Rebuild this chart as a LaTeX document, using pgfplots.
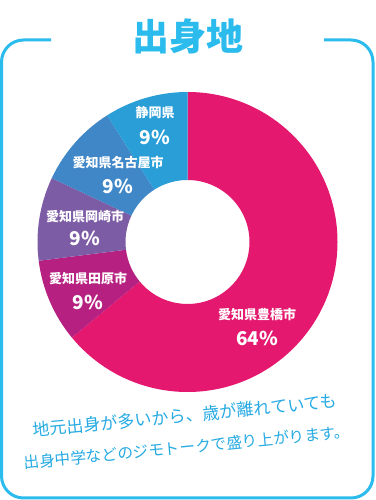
\documentclass[border=0pt]{standalone}
\usepackage{pgfplots}
\pgfplotsset{compat=1.18}
\usepackage{fontspec}
\newfontfamily\cjk{Noto Sans CJK JP}
\definecolor{frame}{RGB}{43,187,236}
\definecolor{textblue}{RGB}{38,170,226}
\definecolor{toyo}{RGB}{227,24,110}
\definecolor{tahara}{RGB}{182,32,128}
\definecolor{okazaki}{RGB}{125,92,166}
\definecolor{nagoya}{RGB}{64,135,200}
\definecolor{shizuoka}{RGB}{41,158,215}
% start (cumulative %), share (%), colour
\newcommand\slice[3]{%
  \pgfmathsetmacro\aS{90-3.6*#1}%
  \pgfmathsetmacro\aE{90-3.6*(#1+#2)}%
  \edef\temp{\noexpand\fill[#3] (axis cs:{150*cos(\aS)},{150*sin(\aS)}) arc[start angle=\aS, end angle=\aE, radius=150pt] -- (axis cs:{62*cos(\aE)},{62*sin(\aE)}) arc[start angle=\aE, end angle=\aS, radius=62pt] -- cycle;}%
  \temp}
\begin{document}
\begin{tikzpicture}
\begin{axis}[hide axis, scale only axis, width=375pt, height=500pt,
  xmin=-187.5, xmax=187.5, ymin=-258, ymax=242, clip=false]
\slice{0}{64}{toyo}
\slice{64}{9}{tahara}
\slice{73}{9}{okazaki}
\slice{82}{9}{nagoya}
\slice{91}{9}{shizuoka}
\draw[frame, line width=3pt, rounded corners=22pt] (axis cs:136.5,202) -- (axis cs:185.5,202) -- (axis cs:185.5,-256) -- (axis cs:-186,-256) -- (axis cs:-186,202) -- (axis cs:-136.5,202);
\node[text=frame, font=\cjk\bfseries\fontsize{37}{40}\selectfont] at (axis cs:0.5,206) {出身地};
\begin{scope}[every node/.style={text=white, font=\cjk\bfseries}]
\node[font=\cjk\bfseries\fontsize{13}{15}\selectfont] at (axis cs:-32.5,129) {静岡県};
\node[font=\cjk\bfseries\fontsize{19}{21}\selectfont] at (axis cs:-32.5,105) {9\%};
\node[font=\cjk\bfseries\fontsize{13}{15}\selectfont] at (axis cs:-69.5,79) {愛知県名古屋市};
\node[font=\cjk\bfseries\fontsize{19}{21}\selectfont] at (axis cs:-69.5,56) {9\%};
\node[font=\cjk\bfseries\fontsize{13}{15}\selectfont] at (axis cs:-102.5,25) {愛知県岡崎市};
\node[font=\cjk\bfseries\fontsize{19}{21}\selectfont] at (axis cs:-102.5,4) {9\%};
\node[font=\cjk\bfseries\fontsize{13}{15}\selectfont] at (axis cs:-99.5,-37) {愛知県田原市};
\node[font=\cjk\bfseries\fontsize{19}{21}\selectfont] at (axis cs:-99.5,-60) {9\%};
\node[font=\cjk\bfseries\fontsize{13}{15}\selectfont] at (axis cs:69.5,-73) {愛知県豊橋市};
\node[font=\cjk\bfseries\fontsize{19}{21}\selectfont] at (axis cs:69.5,-96) {64\%};
\end{scope}
\begin{scope}[shift={(axis cs:-2.5,-174)}, rotate=5.5,
  every node/.style={text=textblue, inner sep=0pt, rotate=5.5, anchor=base west, font=\cjk\fontsize{17}{18}\selectfont}]
\node (a1) at (-153pt,-6pt) {地元出身が};
\node (a2) at (a1.base east) {多いから、};
\node (a3) at (a2.base east) {歳が離れ};
\node (a4) at (a3.base east) {ていても};
\end{scope}
\begin{scope}[shift={(axis cs:-0.5,-205)}, rotate=5.5,
  every node/.style={text=textblue, inner sep=0pt, rotate=5.5, anchor=base west, font=\cjk\fontsize{15.6}{18}\selectfont}]
\node (b1) at (-163.8pt,-6pt) {出身中学な};
\node (b2) at (b1.base east) {どのジモト};
\node (b3) at (b2.base east) {ークで盛り};
\node (b4) at (b3.base east) {上がります。};
\end{scope}
\end{axis}
\pgfresetboundingbox
\useasboundingbox (current axis.south west) rectangle (current axis.north east);
\end{tikzpicture}
\end{document}
